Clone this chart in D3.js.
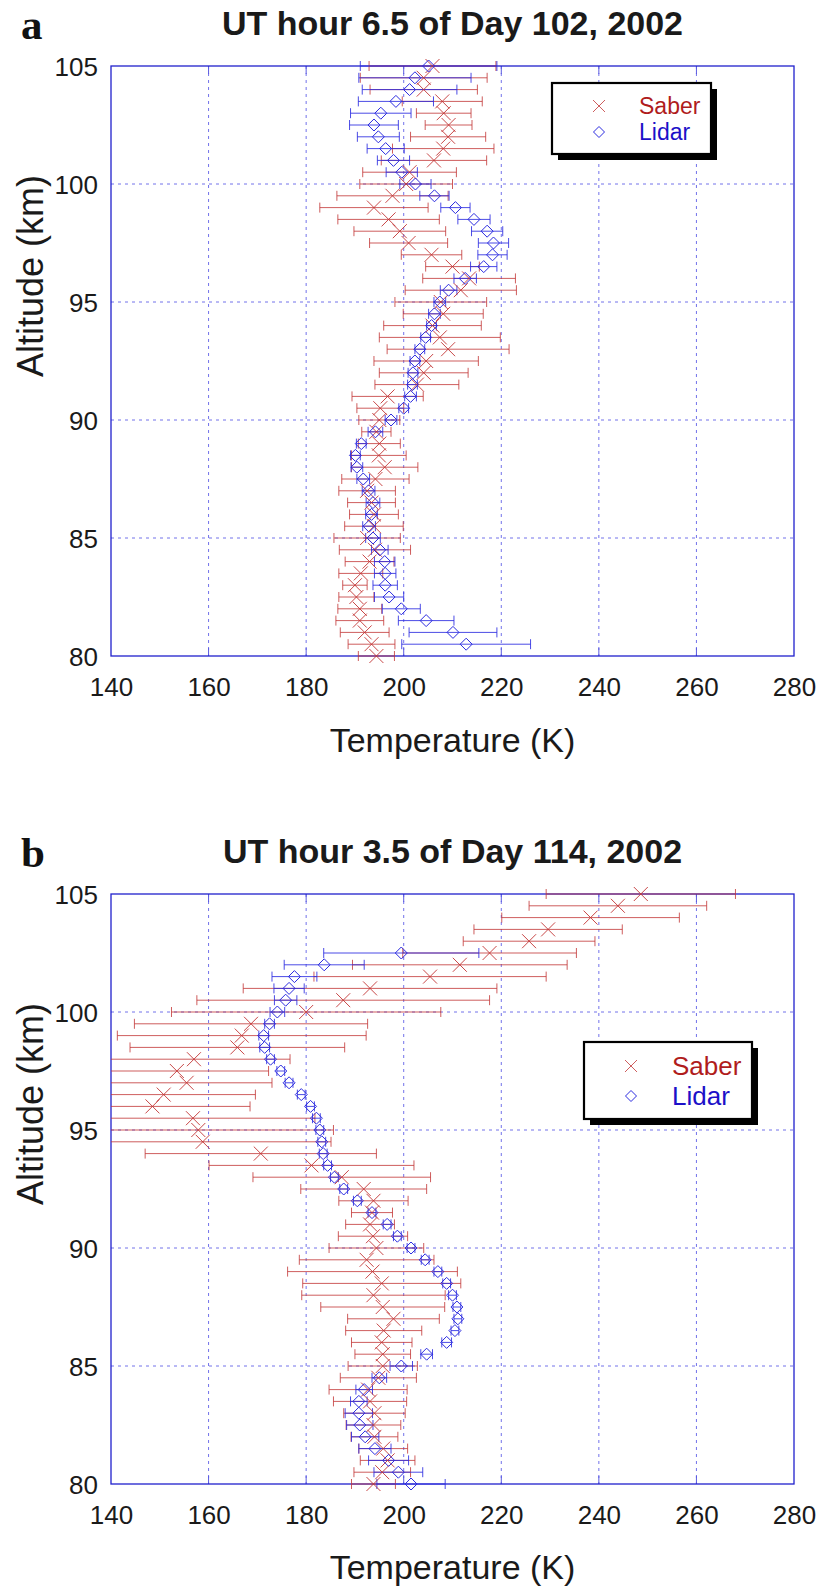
<!DOCTYPE html>
<meta charset="utf-8">
<script src="https://d3js.org/d3.v7.min.js"></script>
<style>
  body { margin: 0; background: #fff; }
  svg { display: block; }
</style>
<body>
<div id="canvas"></div>
<script>
// altitudes (km), same grid for both panels
var altitudes = [80, 80.5, 81, 81.5, 82, 82.5, 83, 83.5, 84, 84.5,
  85, 85.5, 86, 86.5, 87, 87.5, 88, 88.5, 89, 89.5,
  90, 90.5, 91, 91.5, 92, 92.5, 93, 93.5, 94, 94.5,
  95, 95.5, 96, 96.5, 97, 97.5, 98, 98.5, 99, 99.5,
  100, 100.5, 101, 101.5, 102, 102.5, 103, 103.5, 104, 104.5, 105];

// panel a : UT hour 6.5 of Day 102
var saberTempA = [194.4, 193.4, 192.0, 191.0, 191.0, 190.3, 190.0, 191.2, 193.0, 194.1,
  192.5, 193.9, 193.9, 193.4, 192.5, 194.2, 196.1, 194.9, 195.0, 194.4,
  195.0, 195.2, 196.7, 202.7, 204.1, 204.6, 209.1, 207.4, 205.9, 208.1,
  207.6, 211.7, 213.4, 210.0, 205.7, 201.0, 199.2, 196.9, 193.9, 197.7,
  200.5, 201.2, 206.2, 208.1, 209.1, 209.2, 208.2, 207.9, 204.1, 204.1, 205.9];
var saberErrA = [3.7, 4.8, 5.0, 4.9, 4.5, 3.6, 2.5, 4.5, 5.0, 7.3,
  6.8, 6.0, 5.0, 4.9, 5.8, 6.9, 6.8, 5.6, 4.3, 3.0,
  4.2, 4.8, 7.3, 8.6, 9.1, 10.7, 12.5, 12.4, 10.0, 8.2,
  9.4, 11.4, 9.5, 5.5, 6.2, 8.0, 9.4, 10.4, 11.1, 11.4,
  9.5, 9.6, 10.8, 10.4, 7.7, 4.8, 5.6, 8.2, 11.0, 13.0, 13.0];
var lidarTempA = [null, 212.8, 210.1, 204.6, 199.5, 197.0, 196.2, 196.2, 196.1, 195.1,
  193.7, 192.9, 193.4, 193.7, 192.8, 191.7, 190.4, 190.1, 191.3, 194.2,
  197.4, 200.0, 201.4, 201.8, 201.9, 202.3, 203.3, 204.5, 205.7, 206.3,
  207.4, 209.2, 212.6, 216.4, 218.2, 218.4, 217.1, 214.4, 210.6, 206.3,
  202.4, 199.6, 197.9, 196.3, 194.8, 193.9, 195.3, 198.4, 201.2, 202.3, 205.1];
var lidarErrA = [null, 13.2, 9.0, 5.7, 3.9, 3.0, 2.5, 2.2, 2.1, 1.7,
  1.5, 1.3, 1.2, 1.4, 1.3, 1.3, 1.2, 1.0, 1.0, 1.5,
  1.2, 1.0, 1.2, 1.0, 1.0, 1.0, 1.0, 1.0, 1.0, 1.2,
  1.2, 1.7, 2.3, 2.7, 3.0, 3.1, 3.2, 3.3, 3.0, 3.0,
  3.2, 3.2, 3.3, 3.8, 4.3, 5.0, 6.2, 7.7, 9.7, 11.5, 14.0];

// panel b : UT hour 3.5 of Day 114
var saberTempB = [193.8, 195.6, 196.7, 195.8, 194.0, 193.8, 194.0, 193.1, 192.7, 194.8,
  195.7, 195.7, 195.5, 195.9, 197.9, 195.7, 193.8, 195.5, 193.6, 192.4,
  194.4, 193.7, 193.1, 193.5, 193.8, 191.8, 187.3, 181.1, 170.7, 158.8,
  157.9, 156.8, 148.5, 150.8, 155.5, 153.5, 157.0, 165.9, 166.8, 168.7,
  180.0, 187.6, 193.1, 205.4, 211.5, 217.6, 225.7, 229.6, 238.3, 243.9, 248.6];
var saberErrB = [4.5, 5.8, 5.6, 5.0, 4.8, 5.6, 6.3, 7.5, 8.0, 7.8,
  7.1, 5.7, 6.2, 7.8, 9.4, 12.7, 14.7, 16.2, 17.4, 13.8,
  9.7, 7.1, 5.0, 4.2, 7.1, 12.9, 18.2, 21.0, 23.7, 26.3,
  27.7, 25.0, 20.0, 18.8, 17.5, 18.8, 19.7, 22.0, 25.5, 23.9,
  27.6, 30.0, 26.0, 23.8, 22.0, 17.8, 13.5, 15.2, 18.2, 18.2, 19.4];
var lidarTempB = [201.5, 198.9, 196.9, 194.1, 192.1, 191.0, 190.8, 190.8, 191.9, 195.0,
  199.5, 204.7, 208.8, 210.5, 211.1, 210.9, 210.0, 208.8, 207.0, 204.4,
  201.5, 198.7, 196.6, 193.5, 190.5, 187.7, 185.8, 184.4, 183.5, 183.2,
  182.8, 182.1, 180.9, 179.0, 176.5, 174.8, 172.7, 171.5, 171.3, 172.5,
  174.1, 175.8, 176.5, 177.6, 183.7, 199.5, null, null, null, null, null];
var lidarErrB = [7.0, 5.0, 4.1, 3.3, 2.8, 2.7, 2.8, 1.7, 1.7, 1.5,
  2.3, 1.2, 1.0, 0.8, 0.8, 0.8, 0.8, 0.8, 0.8, 0.8,
  0.8, 0.8, 0.8, 0.8, 0.8, 0.8, 0.8, 0.8, 0.8, 0.8,
  0.8, 0.8, 0.8, 0.8, 0.8, 0.8, 0.8, 1.0, 1.0, 1.0,
  1.5, 2.3, 3.1, 4.6, 8.2, 15.9, null, null, null, null, null];

var xTicks = [140, 160, 180, 200, 220, 240, 260, 280];
var yTicks = [80, 85, 90, 95, 100, 105];
var seriesNames = ["Saber", "Lidar"];

var W = 818, H = 1588;
var red = "#c23434", blue = "#2b2be0";

var svg = d3.select("#canvas").append("svg")
    .attr("width", W).attr("height", H)
    .style("font-family", "'Liberation Sans', Arial, sans-serif");

function rows(temp, err) {
    var out = [];
    altitudes.forEach(function(a, i) {
        if (temp[i] != null) out.push({alt: a, t: temp[i], e: err[i]});
    });
    return out;
}

function drawPanel(p) {
    var x = d3.scaleLinear().domain([140, 280]).range([111, 794]);
    var y = d3.scaleLinear().domain([80, 105]).range([p.bottom, p.top]);
    var g = svg.append("g");

    var clipId = "clip" + p.letter;
    svg.append("clipPath").attr("id", clipId)
        .append("rect")
        .attr("x", x(140)).attr("y", y(105) - 8)
        .attr("width", x(280) - x(140)).attr("height", y(80) - y(105) + 16);

    // grid lines
    g.selectAll(".gx").data(xTicks.slice(1, -1)).enter().append("line")
        .attr("x1", function(d) { return x(d); }).attr("x2", function(d) { return x(d); })
        .attr("y1", y(105)).attr("y2", y(80))
        .attr("stroke", "#7272ea").attr("stroke-dasharray", "3,4");
    g.selectAll(".gy").data(yTicks.slice(1, -1)).enter().append("line")
        .attr("y1", function(d) { return y(d); }).attr("y2", function(d) { return y(d); })
        .attr("x1", x(140)).attr("x2", x(280))
        .attr("stroke", "#7272ea").attr("stroke-dasharray", "3,4");

    // small ticks on the frame
    xTicks.slice(1, -1).forEach(function(d) {
        g.append("line").attr("x1", x(d)).attr("x2", x(d))
            .attr("y1", y(80)).attr("y2", y(80) - 8).attr("stroke", "#5a5ae0");
        g.append("line").attr("x1", x(d)).attr("x2", x(d))
            .attr("y1", y(105)).attr("y2", y(105) + 8).attr("stroke", "#5a5ae0");
    });

    // frame
    g.append("rect")
        .attr("x", x(140)).attr("y", y(105))
        .attr("width", x(280) - x(140)).attr("height", y(80) - y(105))
        .attr("fill", "none").attr("stroke", "#2020cc").attr("stroke-width", 1.3);

    // axes labels
    var xAxis = d3.axisBottom(x).tickValues(xTicks).tickSize(0).tickPadding(0);
    var ax = g.append("g").attr("transform", "translate(0," + (y(80) + 31) + ")").call(xAxis);
    ax.select(".domain").remove();
    ax.selectAll("text").attr("dy", "0.35em").attr("y", 0)
        .style("font-size", "26px").style("font-family", "'Liberation Sans', Arial, sans-serif")
        .attr("fill", "#1a1a1a");

    var yAxis = d3.axisLeft(y).tickValues(yTicks).tickSize(0).tickPadding(0);
    var ay = g.append("g").attr("transform", "translate(98,0)").call(yAxis);
    ay.select(".domain").remove();
    ay.selectAll("text").attr("dy", "0.35em").attr("x", 0)
        .style("font-size", "26px").style("font-family", "'Liberation Sans', Arial, sans-serif")
        .attr("fill", "#1a1a1a");

    g.append("text").text("Temperature (K)")
        .attr("x", (x(140) + x(280)) / 2).attr("y", y(80) + p.xlabOff).attr("dy", "0.35em")
        .attr("text-anchor", "middle").attr("font-size", 34).attr("fill", "#1a1a1a");
    g.append("text").text("Altitude (km)")
        .attr("transform", "translate(30," + (p.top + 210) + ") rotate(-90)")
        .attr("dy", "0.35em")
        .attr("text-anchor", "middle").attr("font-size", 36).attr("fill", "#1a1a1a");

    // title + panel letter
    g.append("text").text(p.title)
        .attr("x", (x(140) + x(280)) / 2).attr("y", p.top - 31)
        .attr("text-anchor", "middle").attr("font-size", 34).attr("font-weight", "bold")
        .attr("fill", "#1a1a1a");
    g.append("text").text(p.letter)
        .attr("x", 21).attr("y", p.top - 27)
        .attr("font-family", "'Liberation Serif', 'Times New Roman', serif")
        .attr("font-size", 43).attr("font-weight", "bold").attr("fill", "#111");

    var data = g.append("g").attr("clip-path", "url(#" + clipId + ")");

    // error bars
    function errorBars(d, color, op) {
        var eb = data.append("g").attr("stroke", color).attr("stroke-opacity", op).attr("fill", "none");
        eb.selectAll(".bar").data(d).enter().append("line")
            .attr("x1", function(r) { return x(r.t - r.e); })
            .attr("x2", function(r) { return x(r.t + r.e); })
            .attr("y1", function(r) { return y(r.alt); })
            .attr("y2", function(r) { return y(r.alt); });
        eb.selectAll(".capl").data(d).enter().append("line")
            .attr("x1", function(r) { return x(r.t - r.e); })
            .attr("x2", function(r) { return x(r.t - r.e); })
            .attr("y1", function(r) { return y(r.alt) - 5; })
            .attr("y2", function(r) { return y(r.alt) + 5; });
        eb.selectAll(".capr").data(d).enter().append("line")
            .attr("x1", function(r) { return x(r.t + r.e); })
            .attr("x2", function(r) { return x(r.t + r.e); })
            .attr("y1", function(r) { return y(r.alt) - 5; })
            .attr("y2", function(r) { return y(r.alt) + 5; });
    }

    var saber = rows(p.saberT, p.saberE);
    var lidar = rows(p.lidarT, p.lidarE);

    errorBars(saber, red, 0.8);
    errorBars(lidar, blue, 0.85);

    // saber crosses
    data.append("g").selectAll("path").data(saber).enter().append("path")
        .attr("d", function(r) {
            var cx = x(r.t), cy = y(r.alt), s = 7;
            return "M" + (cx - s) + "," + (cy - s) + "L" + (cx + s) + "," + (cy + s) +
                   "M" + (cx - s) + "," + (cy + s) + "L" + (cx + s) + "," + (cy - s);
        })
        .attr("stroke", red).attr("stroke-opacity", 0.9).attr("fill", "none");

    // lidar diamonds
    data.append("g").selectAll("path").data(lidar).enter().append("path")
        .attr("d", function(r) {
            var cx = x(r.t), cy = y(r.alt), s = 6;
            return "M" + cx + "," + (cy - s) + "L" + (cx + s) + "," + cy +
                   "L" + cx + "," + (cy + s) + "L" + (cx - s) + "," + cy + "Z";
        })
        .attr("stroke", blue).attr("fill", "none");

    // legend
    var L = p.legend;
    var lg = g.append("g");
    lg.append("rect").attr("x", L.x + 6).attr("y", L.y + 6).attr("width", L.w).attr("height", L.h)
        .attr("fill", "#000");
    lg.append("rect").attr("x", L.x).attr("y", L.y).attr("width", L.w).attr("height", L.h)
        .attr("fill", "#fff").attr("stroke", "#000").attr("stroke-width", 2.2);
    var sx = L.x + L.symX, s1 = L.y + L.row1, s2 = L.y + L.row1 + L.gap;
    lg.append("path")
        .attr("d", "M" + (sx - 6) + "," + (s1 - 6) + "L" + (sx + 6) + "," + (s1 + 6) +
                   "M" + (sx - 6) + "," + (s1 + 6) + "L" + (sx + 6) + "," + (s1 - 6))
        .attr("stroke", red).attr("stroke-opacity", 0.8);
    lg.append("path")
        .attr("d", "M" + sx + "," + (s2 - 5.5) + "L" + (sx + 5.5) + "," + s2 +
                   "L" + sx + "," + (s2 + 5.5) + "L" + (sx - 5.5) + "," + s2 + "Z")
        .attr("stroke", blue).attr("fill", "none");
    lg.append("text").text(seriesNames[0])
        .attr("x", L.x + L.textX).attr("y", s1).attr("dy", "0.35em")
        .attr("font-size", L.fs).attr("fill", "#b01c1c");
    lg.append("text").text(seriesNames[1])
        .attr("x", L.x + L.textX).attr("y", s2).attr("dy", "0.35em")
        .attr("font-size", L.fs).attr("fill", "#1c10c8");
}

drawPanel({
    letter: "a", title: "UT hour 6.5 of Day 102, 2002",
    top: 66, bottom: 656, xlabOff: 84,
    saberT: saberTempA, saberE: saberErrA, lidarT: lidarTempA, lidarE: lidarErrA,
    legend: {x: 552, y: 83, w: 159, h: 71, symX: 47, textX: 87, row1: 23, gap: 26, fs: 23}
});

drawPanel({
    letter: "b", title: "UT hour 3.5 of Day 114, 2002",
    top: 894, bottom: 1484, xlabOff: 83,
    saberT: saberTempB, saberE: saberErrB, lidarT: lidarTempB, lidarE: lidarErrB,
    legend: {x: 584, y: 1042, w: 168, h: 77, symX: 47, textX: 88, row1: 24, gap: 30, fs: 26}
});
</script>
</body>
